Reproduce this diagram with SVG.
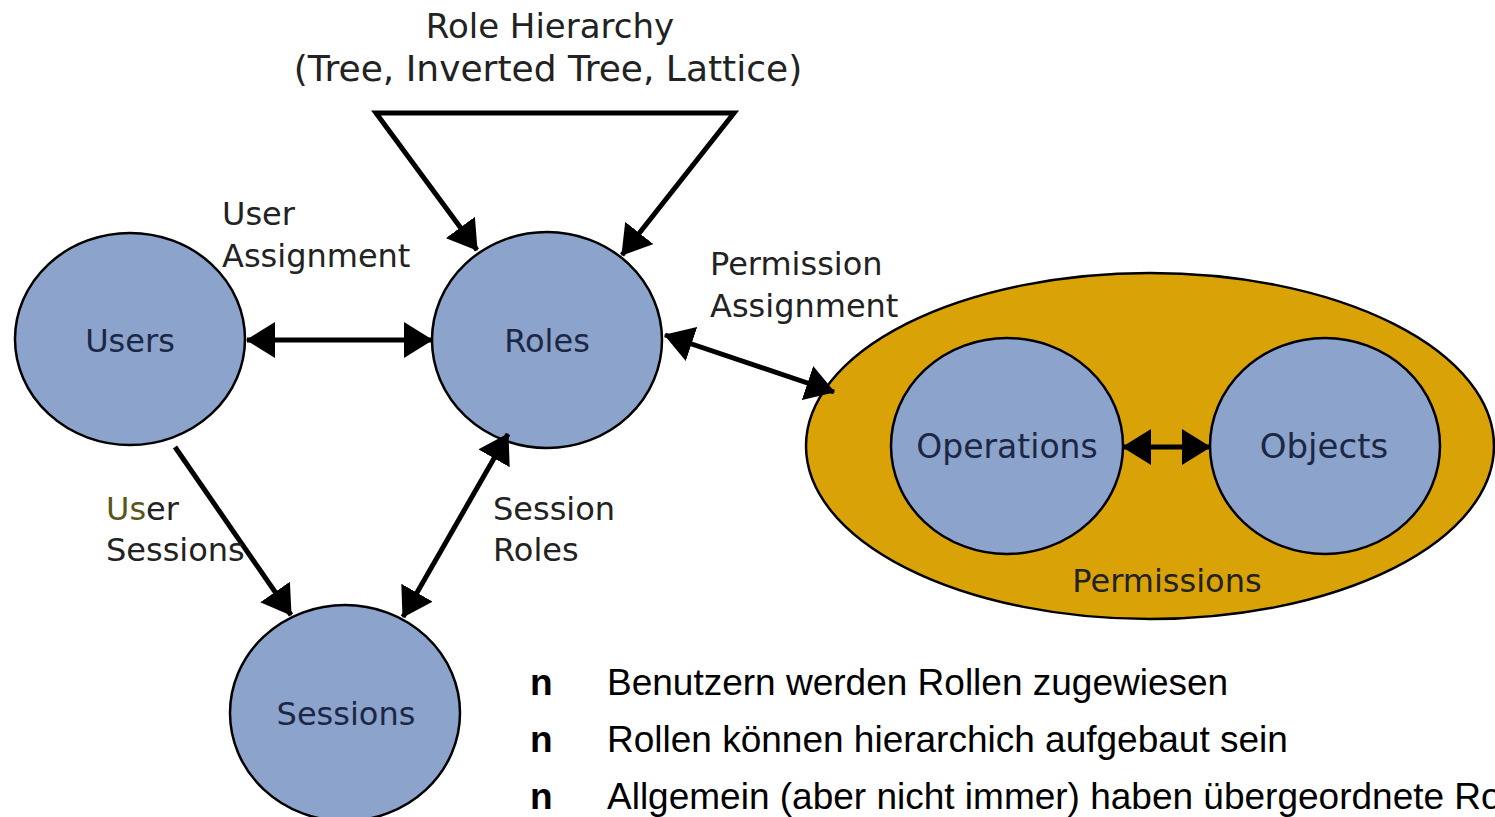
<svg xmlns="http://www.w3.org/2000/svg" width="1495" height="817" viewBox="0 0 1495 817">
<style>
.node{fill:#8ca3cb;stroke:#000;stroke-width:2.5}
.perm{fill:#d9a206;stroke:#000;stroke-width:2.5}
.lbl{font-family:"DejaVu Sans",sans-serif;font-size:32px;fill:#222}
.nl{font-family:"DejaVu Sans",sans-serif;font-size:32px;fill:#1b2744;text-anchor:middle}
.con{fill:none;stroke:#000;stroke-width:5}
.bul{font-family:"Liberation Sans",Arial,sans-serif;font-size:37px;fill:#000}
</style>
<defs>
<marker id="ah" viewBox="0 0 29 36" refX="28" refY="18" markerWidth="29" markerHeight="36" orient="auto-start-reverse" markerUnits="userSpaceOnUse">
<path d="M0,0 L29,18 L0,36 z" fill="#000"/>
</marker>
</defs>
<rect width="1495" height="817" fill="#fff"/>
<g id="permissions">
<ellipse class="perm" cx="1150" cy="446" rx="344" ry="173"/>
<text class="nl" x="1167" y="592" style="fill:#222">Permissions</text>
</g>
<g id="users">
<ellipse class="node" cx="130" cy="339" rx="115" ry="106"/>
<text class="nl" x="130" y="352">Users</text>
</g>
<g id="roles">
<ellipse class="node" cx="547" cy="340" rx="115" ry="108"/>
<text class="nl" x="547" y="352">Roles</text>
</g>
<g id="sessions">
<ellipse class="node" cx="345" cy="713" rx="115" ry="108"/>
<text class="nl" x="346" y="725">Sessions</text>
</g>
<g id="operations">
<ellipse class="node" cx="1007" cy="446" rx="116" ry="108"/>
<text class="nl" x="1007" y="458" style="font-size:33px">Operations</text>
</g>
<g id="objects">
<ellipse class="node" cx="1325" cy="446" rx="115" ry="108"/>
<text class="nl" x="1324" y="458" style="font-size:34px">Objects</text>
</g>
<g id="connectors">
<path class="con" d="M247,340 L432,340" marker-start="url(#ah)" marker-end="url(#ah)"/>
<path class="con" d="M477,250 L376,113 L734,113 L622,255" marker-start="url(#ah)" marker-end="url(#ah)"/>
<path class="con" d="M665,335 L834,392" marker-start="url(#ah)" marker-end="url(#ah)"/>
<path class="con" d="M175,447 L291,615" marker-end="url(#ah)"/>
<path class="con" d="M403,617 L508,434" marker-start="url(#ah)" marker-end="url(#ah)"/>
<path class="con" d="M1123,447 L1210,447" marker-start="url(#ah)" marker-end="url(#ah)"/>
</g>
<g id="labels">
<text class="lbl" x="550" y="38" text-anchor="middle" style="font-size:34px">Role Hierarchy</text>
<text class="lbl" x="548" y="81" text-anchor="middle" style="font-size:36px">(Tree, Inverted Tree, Lattice)</text>
<text class="lbl" x="222" y="225">User</text>
<text class="lbl" x="222" y="267">Assignment</text>
<text class="lbl" x="710" y="275">Permission</text>
<text class="lbl" x="710" y="317">Assignment</text>
<text class="lbl" x="106" y="520"><tspan fill="#5a5618">Us</tspan>er</text>
<text class="lbl" x="106" y="561">Sessions</text>
<text class="lbl" x="493" y="520">Session</text>
<text class="lbl" x="493" y="561">Roles</text>
</g>
<g id="bullets">
<text class="bul" x="530" y="695" font-weight="bold">n</text>
<text class="bul" x="607" y="695">Benutzern werden Rollen zugewiesen</text>
<text class="bul" x="530" y="752" font-weight="bold">n</text>
<text class="bul" x="607" y="752">Rollen können hierarchich aufgebaut sein</text>
<text class="bul" x="530" y="809" font-weight="bold">n</text>
<text class="bul" x="607" y="809">Allgemein (aber nicht immer) haben übergeordnete Ro</text>
</g>
</svg>
